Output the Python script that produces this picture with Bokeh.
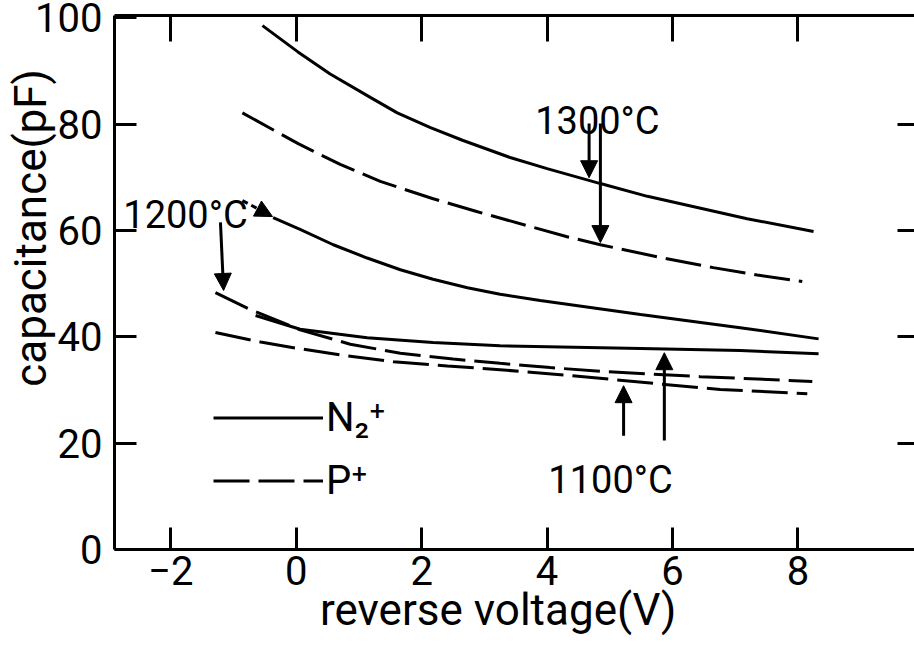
from bokeh.plotting import figure
from bokeh.models import (Range1d, FixedTicker, LinearAxis, Label, Arrow, NormalHead,
                          Legend, LegendItem)
from bokeh.embed import file_html
from bokeh.resources import INLINE

# ---- data (reverse voltage V, capacitance pF) ----
v_1300_n2 = [-0.54, 0.02, 0.54, 1.18, 1.61, 2.14, 2.66, 3.41, 4.00, 4.85, 5.60, 7.19, 8.25]
c_1300_n2 = [98.5, 93.6, 89.4, 85.0, 82.1, 79.3, 76.9, 73.7, 71.6, 68.8, 66.4, 62.2, 59.8]

v_1300_p = [-0.86, 0.03, 0.70, 1.34, 2.17, 2.89, 4.32, 4.85, 5.81, 6.65, 7.35, 8.07]
c_1300_p = [82.1, 76.3, 72.4, 69.2, 66.0, 63.5, 58.8, 57.3, 54.9, 53.0, 51.6, 50.4]

v_1200_n2 = [-0.37, 0.06, 0.59, 1.13, 1.66, 2.18, 2.73, 3.25, 3.89, 5.49, 7.08, 8.33]
c_1200_n2 = [62.4, 60.2, 57.3, 54.8, 52.6, 50.8, 49.2, 48.0, 46.8, 44.2, 41.7, 39.6]

v_1200_p = [-1.29, -0.77, 0.06, 0.86, 1.66, 2.50, 3.25, 4.05, 4.85, 6.44, 8.23]
c_1200_p = [48.3, 45.3, 41.3, 38.6, 36.9, 35.8, 35.0, 34.2, 33.5, 32.5, 31.6]

v_1100_n2 = [-0.65, 0.06, 1.13, 2.18, 3.25, 5.49, 7.08, 8.33]
c_1100_n2 = [44.0, 41.4, 39.8, 38.9, 38.3, 37.8, 37.4, 36.8]

v_1100_p = [-1.29, -0.57, 0.03, 0.75, 1.55, 2.41, 3.25, 4.29, 5.73, 6.76, 8.15]
c_1100_p = [40.8, 39.0, 37.8, 36.5, 35.3, 34.5, 33.8, 32.8, 31.2, 30.1, 29.3]

x_ticks = [-2, 0, 2, 4, 6, 8]
y_ticks = [0, 20, 40, 60, 80, 100]
x_title = "reverse voltage(V)"
y_title = "capacitance(pF)"
legend_labels = ["N₂⁺", "P⁺"]

temp_labels = ["1300°C", "1200°C", "1100°C"]
temp_label_x = [3.81, -2.76, 4.02]
temp_label_y = [80.6, 62.8, 13.0]

# arrows: 1300 short, 1300 long, 1200 -> solid, 1200 -> dashed, 1100 short, 1100 long
arrow_x0 = [4.67, 4.85, -0.86, -1.21, 5.22, 5.87]
arrow_y0 = [80.1, 80.1, 65.6, 61.5, 21.4, 20.5]
arrow_x1 = [4.67, 4.85, -0.38, -1.16, 5.22, 5.87]
arrow_y1 = [69.9, 57.7, 62.6, 48.7, 30.8, 37.0]
arrow_dash = ["solid", "solid", "6 4", "solid", "solid", "solid"]

FONT = "Roboto"
DASH = "36 9"
NBSP = "\u00a0"

p = figure(width=914, height=652, output_backend="svg", toolbar_location=None,
           x_range=Range1d(-2.90, 9.86), y_range=Range1d(0, 100.4),
           min_border_left=114, min_border_right=0, min_border_top=15,
           min_border_bottom=103)
p.outline_line_color = None
p.xgrid.visible = False
p.ygrid.visible = False
p.background_fill_color = "white"
p.border_fill_color = "white"

def style_axis(ax, ticks, tick_in, show_labels=True, show_line=True):
    ax.ticker = FixedTicker(ticks=ticks)
    ax.major_tick_in = tick_in
    ax.major_tick_out = 0
    ax.minor_tick_line_color = None
    ax.major_tick_line_width = 3
    ax.major_tick_line_color = "black"
    ax.axis_line_width = 3
    ax.axis_line_color = "black" if show_line else None
    if show_labels:
        ax.major_label_text_font = FONT
        ax.major_label_text_font_size = "40px"
        ax.major_label_text_color = "black"
        ax.axis_label_text_font = FONT
        ax.axis_label_text_font_size = "44px"
        ax.axis_label_text_font_style = "normal"
        ax.axis_label_text_color = "black"
    else:
        ax.major_label_text_font_size = "0px"
        ax.major_label_standoff = 0

xa = p.xaxis[0]
style_axis(xa, x_ticks, 22)
xa.major_label_standoff = 6
xa.axis_label = x_title + NBSP * 3
xa.axis_label_standoff = -4

ya = p.yaxis[0]
style_axis(ya, y_ticks, 22)
ya.major_label_standoff = 12
ya.axis_label = NBSP * 10 + y_title
ya.axis_label_standoff = -25

top = LinearAxis()
style_axis(top, x_ticks, 26, show_labels=False)
p.add_layout(top, "above")

right = LinearAxis()
style_axis(right, y_ticks[1:-1], 17, show_labels=False, show_line=False)
p.add_layout(right, "right")

r1 = p.line(v_1300_n2, c_1300_n2, line_width=3, color="black")
r2 = p.line(v_1300_p, c_1300_p, line_width=3, color="black", line_dash=DASH)
p.line(v_1200_n2, c_1200_n2, line_width=3, color="black")
p.line(v_1200_p, c_1200_p, line_width=3, color="black", line_dash=DASH)
p.line(v_1100_n2, c_1100_n2, line_width=3, color="black")
p.line(v_1100_p, c_1100_p, line_width=3, color="black", line_dash=DASH)

for t, x, y in zip(temp_labels, temp_label_x, temp_label_y):
    p.add_layout(Label(x=x, y=y, text=t, text_font=FONT, text_font_size="38px",
                       text_align="left", text_baseline="alphabetic", text_color="black"))

for x0, y0, x1, y1, d in zip(arrow_x0, arrow_y0, arrow_x1, arrow_y1, arrow_dash):
    p.add_layout(Arrow(end=NormalHead(size=17, fill_color="black", line_color="black",
                                      line_width=1),
                       x_start=x0, y_start=y0, x_end=x1, y_end=y1,
                       line_width=3, line_color="black", line_dash=d))

legend = Legend(items=[LegendItem(label=legend_labels[0], renderers=[r1]),
                       LegendItem(label=legend_labels[1], renderers=[r2])],
                location=(99, 41), glyph_width=110, glyph_height=55, label_height=55,
                label_standoff=3, spacing=8, padding=0, margin=0,
                border_line_alpha=0, background_fill_alpha=0,
                label_text_font=FONT, label_text_font_size="40px",
                label_text_color="black")
p.add_layout(legend)

open("out.html", "w").write(file_html(p, INLINE))
